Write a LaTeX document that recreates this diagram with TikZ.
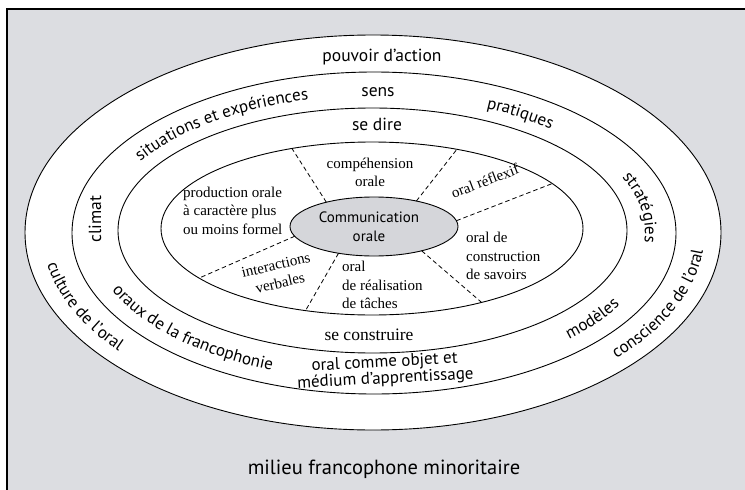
\documentclass[tikz,border=0pt]{standalone}
\usepackage{fontspec}
\setmainfont{Liberation Serif}
\newfontfamily\sansf{PT Sans}
\usetikzlibrary{shapes.geometric,decorations.text,calc}
\definecolor{bggray}{RGB}{220,221,225}
\definecolor{coregray}{RGB}{213,214,218}
\newcommand\ringfont{\sansf\fontsize{17}{20}\selectfont}
\tikzset{
  ring/.style={ellipse, draw=black, line width=0.9pt, fill=white, inner sep=0pt, outer sep=0pt},
  divider/.style={line width=0.8pt, dash pattern=on 4.5pt off 3pt},
  sanslab/.style={font=\sansf\fontsize{17.5}{20}\selectfont, inner sep=0pt},
  seriflab/.style={font=\fontsize{15}{18.5}\selectfont, inner sep=0pt},
}
% clockwise arc text (letters pointing outward)
\newcommand\cwtext[6]{\path[decorate,decoration={text along path,text align=center,text={|\ringfont|#6}}]
  ($(#1)+({#2+#3}:#4pt and #5pt)$) arc[start angle={#2+#3}, end angle={#2-#3}, x radius=#4pt, y radius=#5pt];}
% counter-clockwise arc text (letters pointing inward)
\newcommand\ccwtext[6]{\path[decorate,decoration={text along path,text align=center,text={|\ringfont|#6}}]
  ($(#1)+({#2-#3}:#4pt and #5pt)$) arc[start angle={#2-#3}, end angle={#2+#3}, x radius=#4pt, y radius=#5pt];}
\begin{document}
\begin{tikzpicture}[x=1pt,y=-1pt]
\useasboundingbox (0,0) rectangle (745,490);
\fill[bggray] (7,9) rectangle (745,490);
\draw[line width=1.1pt] (7,490) -- (7,9) -- (745,9);

% rings
\node[ring, minimum width=696pt, minimum height=395pt] (e1) at (373,232.5) {};
\node[ring, minimum width=604pt, minimum height=322pt] (e2) at (374,233) {};
\node[ring, minimum width=509pt, minimum height=245pt] (e3) at (372.5,230.5) {};
\node[ring, minimum width=422pt, minimum height=173pt] (e4) at (372,228.5) {};
\node[ring, fill=coregray, minimum width=168pt, minimum height=59pt] (core) at (374,226.5) {};

% dashed dividers
\draw[divider] (core.153) -- (e4.135);
\draw[divider] (core.31) -- (e4.43);
\draw[divider] (core.4) -- (e4.14);
\draw[divider] (core.333) -- (e4.326);
\draw[divider] (core.217) -- (e4.231);
\draw[divider] (core.187) -- (e4.196);

% straight labels
\node[sanslab, anchor=base] (pouvoir) at (382,61.5) {pouvoir d’action};
\node[sanslab, anchor=base] (sens) at (378,96.5) {sens};
\node[sanslab, anchor=base] (sedire) at (377,130) {se dire};
\node[font=\fontsize{17.5}{20}\selectfont, inner sep=0pt, anchor=base] (seconstr) at (369,340.5) {se construire};
\node[font=\sansf\fontsize{20.5}{23}\selectfont, inner sep=0pt, anchor=base] (milieu) at (384,474) {milieu francophone minoritaire};
\node[font=\sansf\fontsize{17}{16.5}\selectfont, inner sep=0pt, align=center, rotate=3] (objet) at (385,371) {oral comme objet et\\médium d’apprentissage};
\node[sanslab, rotate=90] (climat) at (95,219) {climat};

% centre
\node[font=\sansf\fontsize{15}{19}\selectfont, inner sep=0pt, align=center] (commtxt) at (369,226.5) {Communication\\orale};

% sectors
\node[seriflab, align=center] (comp) at (370,172.5) {compéhension\\orale};
\node[seriflab, align=left, anchor=west] (prod) at (183,210.5) {production orale\\à caractère plus\\ou moins formel};
\node[seriflab, align=left, anchor=west] (constr) at (466,256) {oral de\\construction\\de savoirs};
\node[seriflab, align=left, anchor=west] (real) at (342,285) {oral\\de réalisation\\de tâches};
\node[seriflab, rotate=21] (reflexif) at (485,181) {oral réflexif};
\node[seriflab, align=center, rotate=13] (inter) at (278,274) {interactions\\verbales};

% curved labels
\coordinate (cA) at (373.5,233);
\coordinate (cB) at (373,232);
\cwtext{cB}{134}{50}{272}{136}{situations et expériences}
\cwtext{cB}{54}{30}{272}{136}{pratiques}
\cwtext{cB}{8}{30}{272}{136}{stratégies}
\ccwtext{cB}{220}{45}{284}{148}{oraux de la francophonie}
\ccwtext{cB}{325}{25}{284}{148}{modèles}
\ccwtext{cA}{200}{40}{331}{185}{culture de l’oral}
\ccwtext{cA}{340}{40}{331}{185}{conscience de l’oral}
\end{tikzpicture}
\end{document}
